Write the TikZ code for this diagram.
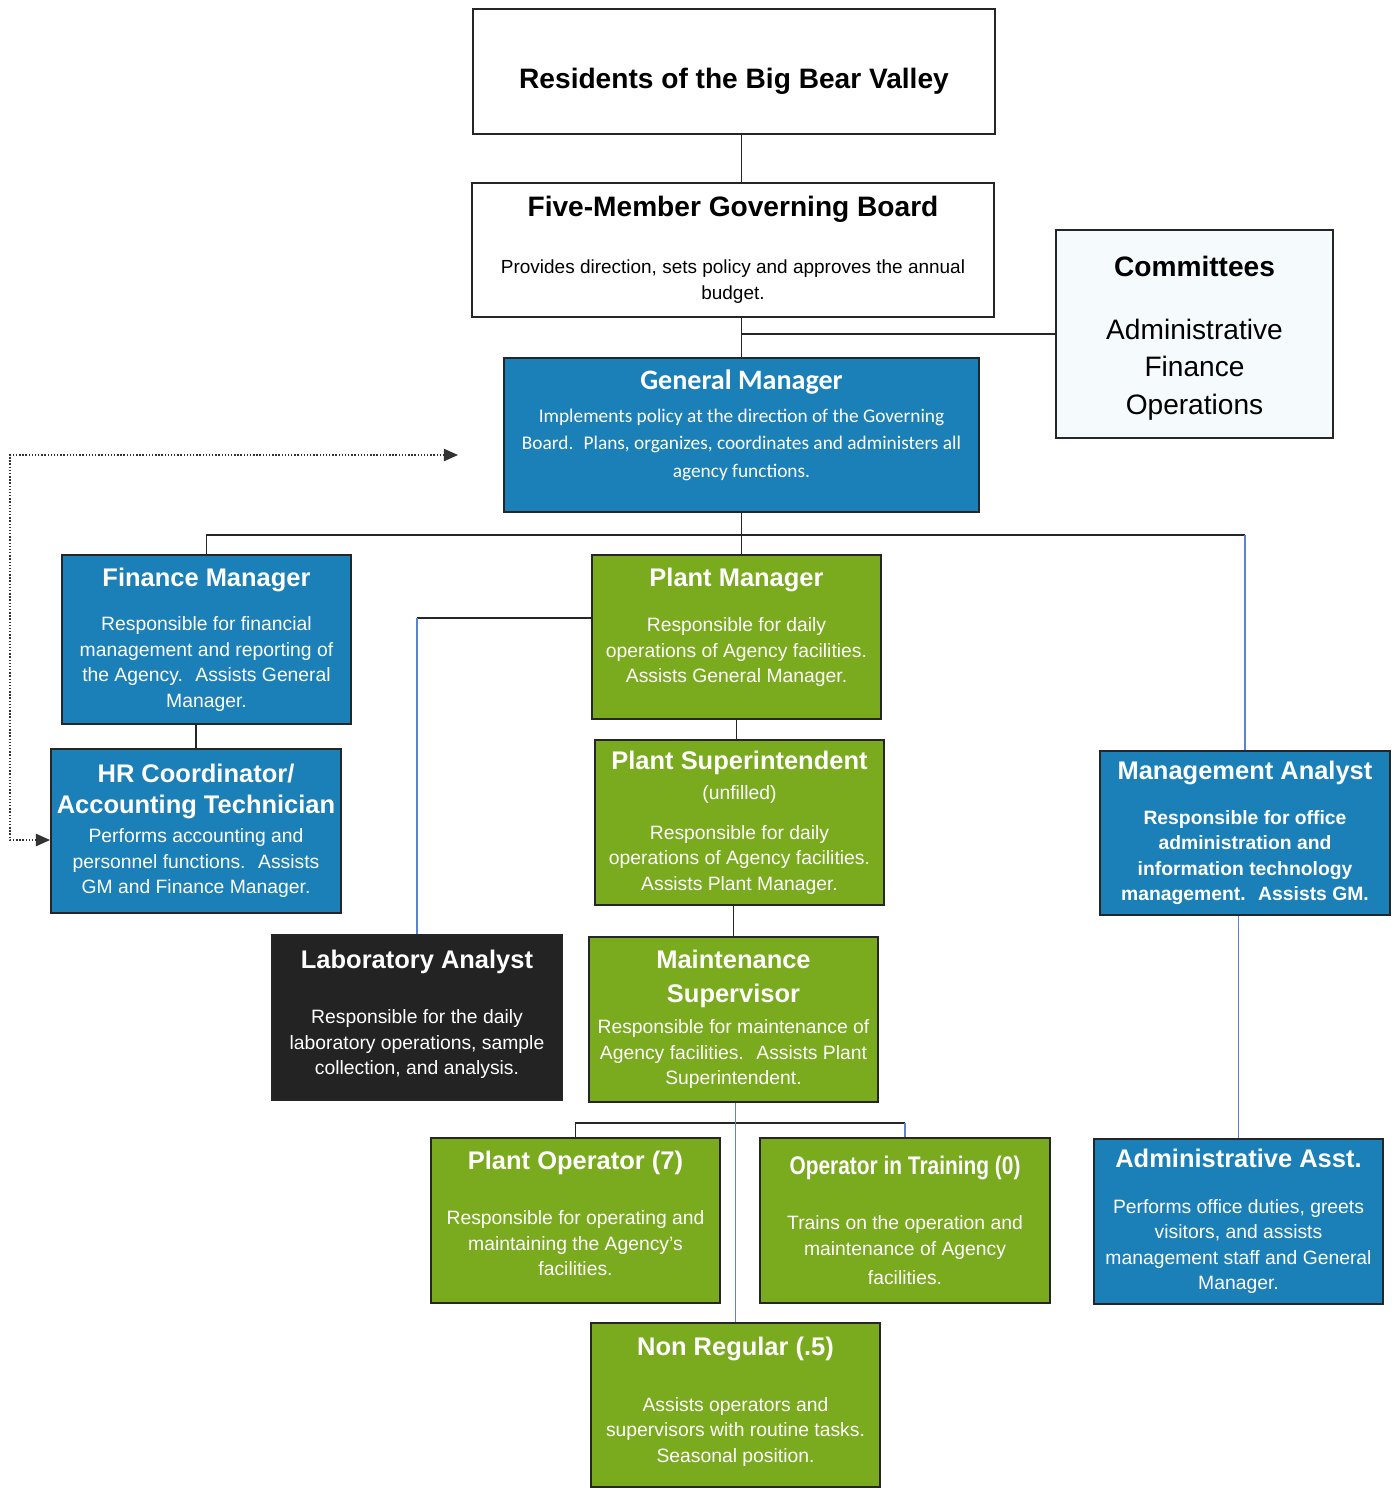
\documentclass[tikz,border=0pt]{standalone}
\usepackage{fontspec}
\usepackage{graphicx}
\setmainfont{Liberation Sans}
\newfontfamily\gmfont{Carlito}
\usetikzlibrary{arrows.meta}
\definecolor{gmblue}{HTML}{1C80B8}
\definecolor{plantgreen}{HTML}{7AAA1E}
\definecolor{labdark}{HTML}{232323}
\definecolor{commfill}{HTML}{F5FAFC}
\definecolor{linkblue}{HTML}{5B82D8}
\newcommand{\ttl}[1]{{\fontsize{14.5pt}{17pt}\selectfont\bfseries #1}}
\newcommand{\bigttl}[1]{{\fontsize{16pt}{19pt}\selectfont\bfseries #1}}
\newcommand{\dn}[1]{\rule[-#1]{0pt}{#1}}

\begin{document}
\begin{tikzpicture}[x=0.02cm, y=-0.02cm,
  wh/.style 2 args={minimum width=#1*0.02cm, minimum height=#2*0.02cm},
  card/.style={draw=black!85, line width=1.1pt, inner sep=2pt, align=center, text=white, font=\fontsize{11pt}{14.5pt}\selectfont},
  bluebox/.style={card, fill=gmblue},
  greenbox/.style={card, fill=plantgreen},
  darkbox/.style={card, fill=labdark},
  plainbox/.style={draw=black!85, line width=1.1pt, inner sep=2pt, align=center, text=black, fill=white},
  link/.style={line width=1pt, black!85},
  bluelink/.style={line width=0.8pt, linkblue},
  dotarrow/.style={line width=0.8pt, densely dotted, black!80, {Triangle[length=8pt,width=7pt]}-{Triangle[length=8pt,width=7pt]}}
]
\useasboundingbox (0,0) rectangle (1395,1489);

\node[plainbox, wh={522}{125}, font=\fontsize{16pt}{19pt}\selectfont\bfseries] (res) at (734,71.5) {\rule{0pt}{23pt}Residents of the Big Bear Valley};
\node[plainbox, wh={522}{134}, font=\fontsize{10.8pt}{14.8pt}\selectfont] (board) at (733,250) {\bigttl{Five-Member Governing Board}\\[17.6pt]Provides direction, sets policy and approves the annual\\budget.};
\node[plainbox, fill=commfill, wh={277}{208}, font=\fontsize{16pt}{21.3pt}\selectfont] (comm) at (1194.5,334) {\rule{0pt}{16pt}\textbf{Committees}\\[14.5pt]Administrative\\Finance\\Operations};
\node[bluebox, wh={475}{154}, font=\gmfont\fontsize{11pt}{15.4pt}\selectfont] (gm) at (741.5,435) {\bigttl{General Manager}\\[3.4pt]Implements policy at the direction of the Governing\\Board.~ Plans, organizes, coordinates and administers all\\agency functions.\dn{13pt}};

\node[bluebox, wh={289}{169}] (fm) at (206.5,639.5) {\ttl{Finance Manager}\\[11pt]Responsible for financial\\management and reporting of\\the Agency.~ Assists General\\Manager.};
\node[bluebox, wh={290}{164}] (hr) at (196,831) {\ttl{HR Coordinator/}\\[3pt]\ttl{Accounting Technician}\\[2pt]Performs accounting and\\personnel functions.~ Assists\\GM and Finance Manager.};
\node[greenbox, wh={289}{164}] (pm) at (736.5,637) {\ttl{Plant Manager}\\[11pt]Responsible for daily\\operations of Agency facilities.\\Assists General Manager.\dn{13pt}};
\node[greenbox, wh={289}{165}] (ps) at (739.5,822.5) {\ttl{Plant Superintendent}\\[3pt](unfilled)\\[8pt]Responsible for daily\\operations of Agency facilities.\\Assists Plant Manager.};
\node[darkbox, wh={290}{165}] (lab) at (417,1017.5) {\ttl{Laboratory Analyst}\\[17pt]Responsible for the daily\\laboratory operations, sample\\collection, and analysis.\dn{6pt}};
\node[greenbox, wh={289}{165}] (ms) at (733.5,1019.5) {\ttl{Maintenance}\\[4.8pt]\ttl{Supervisor}\\[3pt]Responsible for maintenance of\\Agency facilities.~ Assists Plant\\Superintendent.};
\node[greenbox, wh={289}{165}] (po) at (575.5,1220.5) {\ttl{Plant Operator (7)}\\[17pt]Responsible for operating and\\maintaining the Agency's\\facilities.\dn{8pt}};
\node[greenbox, wh={290}{165}] (oit) at (905,1220.5) {\ttl{\scalebox{0.82}[1]{Operator in Training (0)}}\\[17pt]Trains on the operation and\\maintenance of Agency\\[2.5pt]facilities.};
\node[greenbox, wh={289}{164}] (nr) at (735.5,1405) {\ttl{Non Regular (.5)}\\[17pt]Assists operators and\\supervisors with routine tasks.\\Seasonal position.\dn{6pt}};
\node[bluebox, wh={290}{164}, font=\fontsize{11pt}{14.5pt}\selectfont\bfseries] (ma) at (1245,833) {\ttl{Management Analyst}\\[11pt]Responsible for office\\administration and\\information technology\\management.~ Assists GM.};
\node[bluebox, wh={289}{165}] (aa) at (1238.5,1221.5) {\ttl{Administrative Asst.}\\[11.5pt]Performs office duties, greets\\visitors, and assists\\management staff and General\\Manager.};

\coordinate (bus) at (741.5,535);
\coordinate (opbus) at (735.5,1123);
\coordinate (pmtap) at ([yshift=0.38cm]pm.west);
\coordinate (gmtip) at (458,455);
\coordinate (loop) at (10,455);
\coordinate (hrtip) at ([yshift=-0.18cm]hr.west);

\draw[link] (res.south -| gm.north) -- (board.north -| gm.north);
\draw[link] (board.south -| gm.north) -- (gm.north);
\draw[link] (comm.west) -- (comm.west -| gm.north);
\draw[link] (gm.south) -- (bus);
\draw[link] (fm.north) |- (bus) -- (bus |- pm.north);
\draw[link] (bus) -- (bus -| ma.north);
\draw[bluelink] (bus -| ma.north) -- (ma.north);
\draw[link] (hr.north |- fm.south) -- (hr.north);
\draw[link] (pmtap) -- (pmtap -| lab.north);
\draw[bluelink] (pmtap -| lab.north) -- (lab.north);
\draw[link] (pm.south) -- (pm.south |- ps.north);
\draw[link] (ms.north |- ps.south) -- (ms.north);
\draw[link] (po.north) |- (opbus);
\draw[link] (opbus) -- (opbus -| oit.north);
\draw[bluelink] (opbus -| oit.north) -- (oit.north);
\draw[bluelink] (nr.north |- ms.south) -- (nr.north);
\draw[bluelink] (aa.north |- ma.south) -- (aa.north);
\draw[dotarrow] (gmtip) -- (loop) |- (hrtip);
\end{tikzpicture}
\end{document}
